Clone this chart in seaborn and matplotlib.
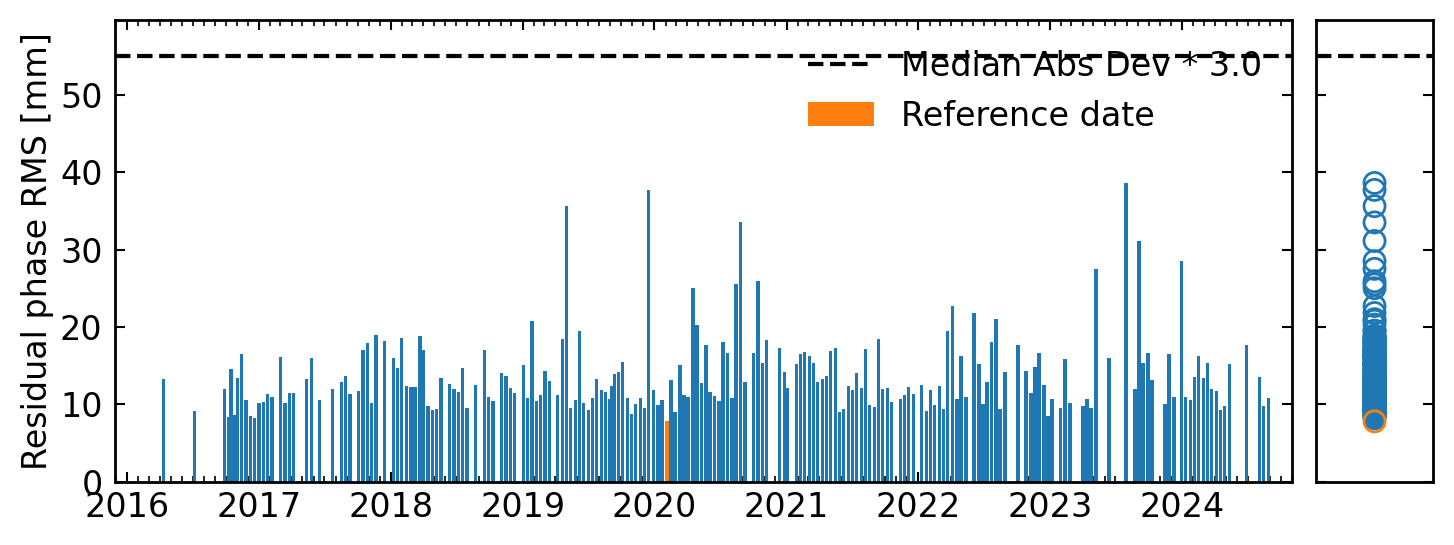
import numpy as np
import pandas as pd
import matplotlib
matplotlib.use("Agg")
import matplotlib.pyplot as plt
import matplotlib.dates as mdates
import seaborn as sns

# acquisition dates and residual phase RMS [mm]
dates = [
    "2016-04-11", "2016-07-06", "2016-09-28", "2016-10-08", "2016-10-15", "2016-10-24",
    "2016-11-03", "2016-11-14", "2016-11-26", "2016-12-09", "2016-12-20", "2017-01-01",
    "2017-01-13", "2017-01-25", "2017-02-06", "2017-03-02", "2017-03-14", "2017-03-27",
    "2017-04-07", "2017-05-13", "2017-05-26", "2017-06-18", "2017-07-24", "2017-08-18",
    "2017-08-29", "2017-09-10", "2017-10-04", "2017-10-16", "2017-10-28", "2017-11-09",
    "2017-11-21", "2017-12-15", "2018-01-08", "2018-01-19", "2018-01-31", "2018-02-13",
    "2018-02-26", "2018-03-09", "2018-03-23", "2018-04-02", "2018-04-14", "2018-04-27",
    "2018-05-08", "2018-05-20", "2018-06-13", "2018-06-25", "2018-07-08", "2018-07-19",
    "2018-07-31", "2018-08-24", "2018-09-18", "2018-09-29", "2018-10-11", "2018-11-04",
    "2018-11-16", "2018-11-28", "2018-12-10", "2019-01-04", "2019-01-15", "2019-01-27",
    "2019-02-09", "2019-02-20", "2019-03-04", "2019-03-17", "2019-04-08", "2019-04-22",
    "2019-05-03", "2019-05-14", "2019-05-28", "2019-06-08", "2019-06-19", "2019-07-03",
    "2019-07-14", "2019-07-25", "2019-08-08", "2019-08-19", "2019-08-30", "2019-09-05",
    "2019-09-13", "2019-09-24", "2019-10-05", "2019-10-19", "2019-10-30", "2019-11-10",
    "2019-11-24", "2019-12-05", "2019-12-16", "2019-12-30", "2020-01-11", "2020-01-22",
    "2020-02-05", "2020-02-16", "2020-02-27", "2020-03-12", "2020-03-23", "2020-04-03",
    "2020-04-17", "2020-04-28", "2020-05-10", "2020-05-23", "2020-06-03", "2020-06-15",
    "2020-06-28", "2020-07-09", "2020-07-21", "2020-08-03", "2020-08-14", "2020-08-26",
    "2020-09-08", "2020-10-01", "2020-10-14", "2020-10-26", "2020-11-06", "2020-12-12",
    "2020-12-26", "2021-01-04", "2021-01-29", "2021-02-09", "2021-02-20", "2021-03-06",
    "2021-03-17", "2021-03-28", "2021-04-11", "2021-04-22", "2021-05-03", "2021-05-17",
    "2021-05-28", "2021-06-08", "2021-06-22", "2021-07-03", "2021-07-14", "2021-07-28",
    "2021-08-08", "2021-08-19", "2021-09-02", "2021-09-13", "2021-09-24", "2021-10-08",
    "2021-10-19", "2021-11-13", "2021-11-24", "2021-12-05", "2021-12-19", "2022-01-10",
    "2022-01-24", "2022-02-04", "2022-02-15", "2022-03-01", "2022-03-12", "2022-03-23",
    "2022-04-06", "2022-04-18", "2022-04-29", "2022-05-13", "2022-06-04", "2022-06-18",
    "2022-06-29", "2022-07-10", "2022-07-23", "2022-08-04", "2022-08-15", "2022-08-29",
    "2022-10-04", "2022-10-26", "2022-11-09", "2022-11-20", "2022-12-01", "2022-12-15",
    "2022-12-26", "2023-01-06", "2023-01-30", "2023-02-11", "2023-02-25", "2023-04-02",
    "2023-04-13", "2023-04-24", "2023-05-08", "2023-06-13", "2023-07-30", "2023-08-24",
    "2023-09-04", "2023-09-15", "2023-09-29", "2023-10-10", "2023-11-15", "2023-11-26",
    "2023-12-10", "2023-12-31", "2024-01-11", "2024-01-25", "2024-02-05", "2024-02-16",
    "2024-03-01", "2024-03-12", "2024-03-23", "2024-04-06", "2024-04-17", "2024-04-28",
    "2024-05-12", "2024-06-28", "2024-08-03", "2024-08-14", "2024-08-28",
]
rms = [
    13.3, 9.1, 12.0, 8.4, 14.6, 8.6,
    13.4, 16.5, 10.6, 8.5, 8.2, 10.2,
    10.3, 11.3, 10.9, 16.1, 10.2, 11.5,
    11.5, 13.3, 16.0, 10.6, 12.0, 12.9,
    13.7, 11.3, 11.7, 17.0, 17.9, 10.2,
    18.9, 18.2, 16.0, 14.7, 18.6, 12.4,
    12.2, 12.2, 18.8, 17.0, 9.8, 9.3,
    9.4, 13.4, 12.6, 12.0, 11.6, 14.7,
    9.5, 12.5, 17.0, 10.9, 10.4, 14.1,
    13.7, 12.1, 11.5, 15.1, 10.8, 20.8,
    10.4, 11.2, 14.3, 13.0, 11.2, 18.4,
    35.6, 9.5, 10.6, 19.5, 10.2, 9.3,
    10.8, 13.3, 11.9, 11.6, 10.7, 12.4,
    13.9, 14.2, 15.5, 10.8, 8.8, 10.0,
    10.8, 9.5, 37.7, 11.9, 9.9, 10.6,
    7.8, 13.1, 9.0, 15.1, 11.2, 10.9,
    25.0, 20.3, 12.8, 17.7, 11.6, 11.1,
    10.4, 18.1, 16.6, 10.8, 25.5, 33.5,
    12.9, 16.6, 25.9, 15.3, 18.3, 17.3,
    14.2, 12.1, 15.2, 16.5, 16.8, 16.3,
    15.3, 12.9, 13.3, 13.7, 16.9, 17.3,
    9.0, 9.4, 12.4, 11.9, 14.1, 12.1,
    17.1, 9.9, 9.7, 18.4, 12.0, 12.1,
    10.3, 10.7, 11.2, 12.2, 11.3, 12.5,
    9.1, 11.9, 9.9, 12.4, 9.4, 19.5,
    22.7, 10.7, 16.3, 10.9, 21.8, 15.2,
    10.0, 12.9, 18.1, 21.0, 9.4, 14.2,
    17.7, 14.3, 11.5, 14.8, 16.6, 12.5,
    8.5, 10.7, 9.5, 15.8, 10.2, 9.8,
    10.7, 9.5, 27.5, 16.0, 38.6, 12.0,
    31.1, 15.3, 16.6, 13.1, 10.0, 16.5,
    10.9, 28.5, 10.9, 10.6, 13.5, 16.3,
    13.4, 15.3, 12.0, 11.7, 9.3, 9.8,
    15.2, 17.7, 13.5, 9.8, 10.8,
]
ref_date = "2020-02-05"
mad_threshold = 55.0
yticks = [0, 10, 20, 30, 40, 50]

df = pd.DataFrame({"date": pd.to_datetime(dates), "rms": rms})
df["is_ref"] = df["date"] == pd.Timestamp(ref_date)
df["col"] = 0
ref = df[df["is_ref"]]
rest = df[~df["is_ref"]]

sns.set_style("ticks", {"axes.edgecolor": "black", "text.color": "black",
                        "xtick.color": "black", "ytick.color": "black",
                        "axes.labelcolor": "black"})
plt.rcParams["font.family"] = ["DejaVu Sans"]
plt.rcParams["font.size"] = 24
plt.rcParams["axes.linewidth"] = 2

fig = plt.figure(figsize=(14.54, 5.45), dpi=100)
ax = fig.add_axes([0.0791, 0.1161, 0.8095, 0.8472])
ax2 = fig.add_axes([0.9049, 0.1161, 0.0809, 0.8472])

# main panel: bars per date
ax.axhline(mad_threshold, color="k", ls="--", lw=3, label="Median Abs Dev * 3.0")
ax.bar(rest["date"], rest["rms"], width=9, color="tab:blue", linewidth=0)
ax.bar(ref["date"], ref["rms"], width=9, color="tab:orange", linewidth=0,
       label="Reference date")

ax.set_xlim(pd.Timestamp("2015-11-29"), pd.Timestamp("2024-11-01"))
ax.set_ylim(0, 59.65)
ax.set_yticks(yticks)
ax.xaxis.set_major_locator(mdates.YearLocator())
ax.xaxis.set_major_formatter(mdates.DateFormatter("%Y"))
ax.xaxis.set_minor_locator(mdates.MonthLocator())
ax.tick_params(which="both", direction="in", top=True, right=True)
ax.tick_params(which="major", length=7, width=1.5)
ax.tick_params(which="minor", length=4, width=1.2)
ax.tick_params(axis="x", pad=7)
ax.tick_params(axis="y", pad=9)
ax.set_ylabel("Residual phase RMS [mm]")
ax.set_xlabel("")
ax.legend(loc="upper right", frameon=False, fontsize=24)

# side panel: distribution of the same values
ax2.axhline(mad_threshold, color="k", ls="--", lw=3)
sns.scatterplot(data=rest, x="col", y="rms", ax=ax2, marker="o", s=230,
                color="tab:blue", facecolor="none", edgecolor="tab:blue", linewidth=2)
sns.scatterplot(data=ref, x="col", y="rms", ax=ax2, marker="o", s=230,
                color="tab:orange", facecolor="none", edgecolor="tab:orange", linewidth=2)
ax2.set_xlim(-1, 1)
ax2.set_ylim(0, 59.65)
ax2.set_xticks([])
ax2.set_yticks(yticks)
ax2.set_yticklabels([])
ax2.tick_params(axis="y", direction="in", left=True, right=True, length=7, width=1.5)
ax2.set_xlabel("")
ax2.set_ylabel("")

fig.savefig("out.png", dpi=100)
